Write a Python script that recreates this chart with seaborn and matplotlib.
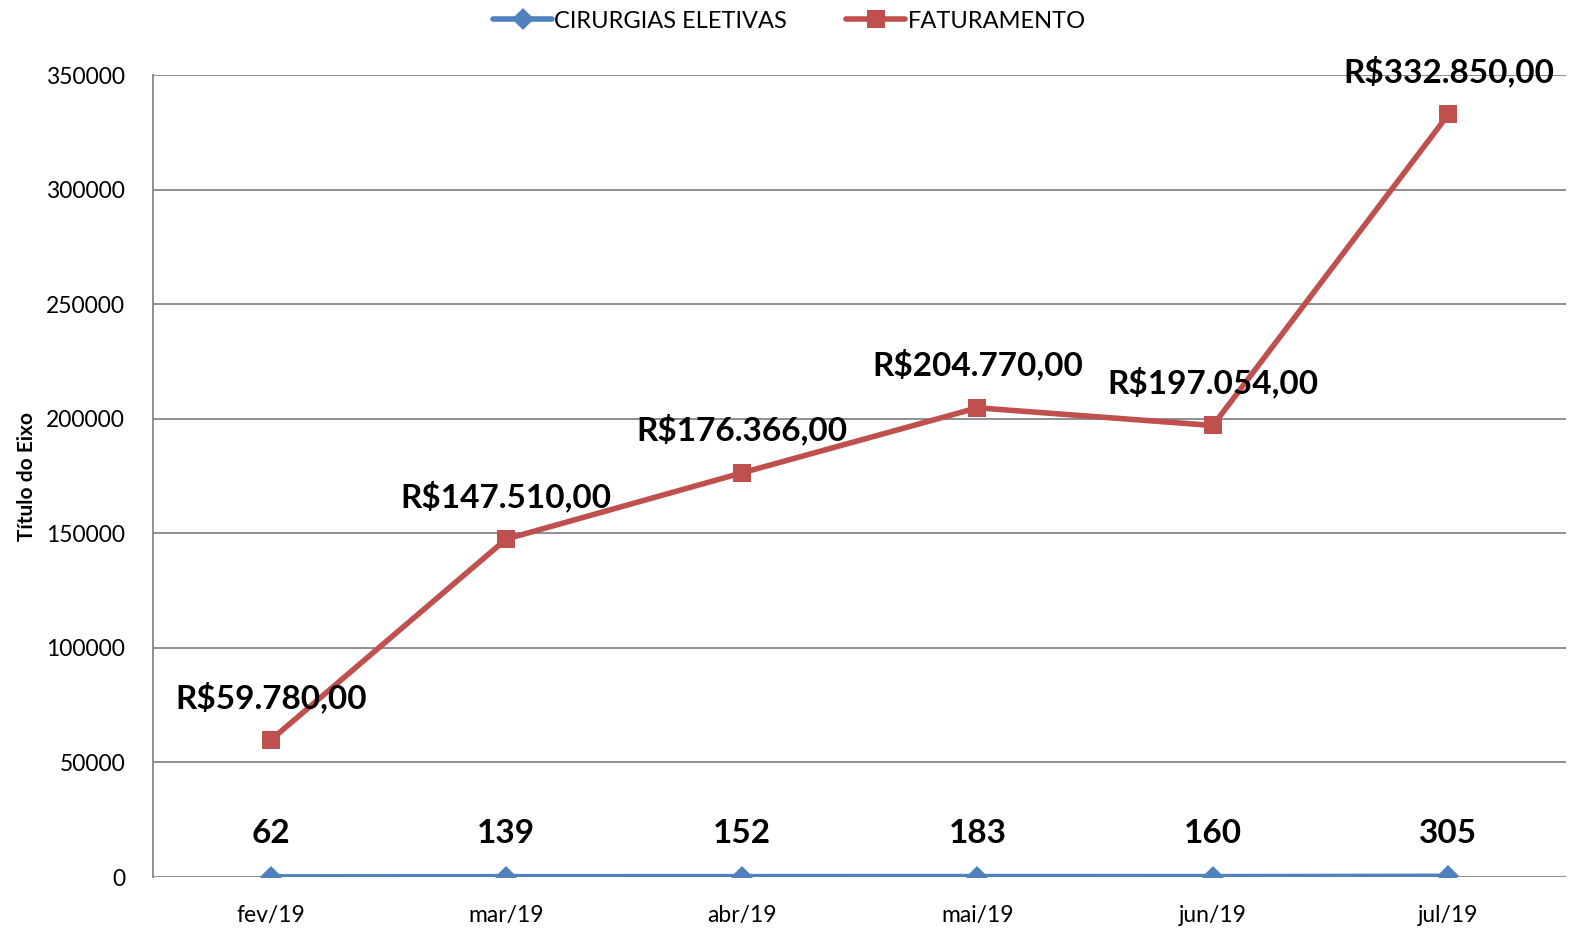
import matplotlib
matplotlib.use("Agg")
import matplotlib.pyplot as plt
import seaborn as sns
import pandas as pd

months = ["fev/19", "mar/19", "abr/19", "mai/19", "jun/19", "jul/19"]
cirurgias = [62, 139, 152, 183, 160, 305]
faturamento = [59780, 147510, 176366, 204770, 197054, 332850]
fat_labels = ["R$59.780,00", "R$147.510,00", "R$176.366,00", "R$204.770,00", "R$197.054,00", "R$332.850,00"]
yticks = [0, 50000, 100000, 150000, 200000, 250000, 300000, 350000]

sns.set_style("white")
plt.rcParams['font.family'] = ['Lato', 'DejaVu Sans']
plt.rcParams['text.color'] = 'black'
plt.rcParams['xtick.color'] = 'black'
plt.rcParams['ytick.color'] = 'black'
plt.rcParams['axes.labelcolor'] = 'black'

df = pd.DataFrame({"x": list(range(len(months))) * 2,
                   "y": cirurgias + faturamento,
                   "serie": ["CIRURGIAS ELETIVAS"] * 6 + ["FATURAMENTO"] * 6})

fig = plt.figure(figsize=(15.79, 9.31), dpi=100)
ax = fig.add_axes([0.0969, 0.058, 0.895, 0.8614])

blue = "#4F81BD"
red = "#C0504D"
sns.lineplot(data=df, x="x", y="y", hue="serie", style="serie",
             palette={"CIRURGIAS ELETIVAS": blue, "FATURAMENTO": red},
             markers={"CIRURGIAS ELETIVAS": "D", "FATURAMENTO": "s"},
             dashes=False, linewidth=4, markersize=13, markeredgewidth=0,
             ax=ax, legend=True, zorder=3)
for l in ax.lines:
    if l.get_marker() == "D":
        l.set_markersize(11)

ax.set_xlim(-0.5, 5.5)
ax.set_ylim(0, 350000)
ax.set_yticks(yticks)
ax.set_yticklabels([str(v) for v in yticks], fontsize=16.5)
ax.set_xticks(range(len(months)))
ax.set_xticklabels(months, fontsize=16.5)
ax.tick_params(axis='both', length=0)
ax.tick_params(axis='y', pad=20)
ax.tick_params(axis='x', pad=20)
ax.yaxis.grid(True, color="#868686", linewidth=1.3, zorder=0)
ax.set_axisbelow(True)
for s in ["top", "right", "bottom"]:
    ax.spines[s].set_visible(False)
ax.spines["left"].set_color("#868686")
ax.spines["left"].set_linewidth(1.3)
ax.set_xlabel("")
ax.set_ylabel("Título do Eixo", fontsize=15, fontweight="bold", labelpad=7)

for i in range(len(months)):
    ax.annotate(fat_labels[i], (i, faturamento[i]), xytext=(0, 43), textcoords="offset pixels",
                ha="center", va="center", fontsize=24, fontweight="bold", zorder=5)
    ax.annotate(str(cirurgias[i]), (i, cirurgias[i]), xytext=(0, 43), textcoords="offset pixels",
                ha="center", va="center", fontsize=24, fontweight="bold", zorder=5)

handles, labels = ax.get_legend_handles_labels()
ax.legend(handles, labels, loc="center", ncol=2, frameon=False, fontsize=17,
          handlelength=2.5, columnspacing=2.5, handletextpad=0.1)
leg = ax.get_legend()
leg.set_bbox_to_anchor((0.5, 1 - 21/931), transform=fig.transFigure)

fig.savefig("out.png", dpi=100)
